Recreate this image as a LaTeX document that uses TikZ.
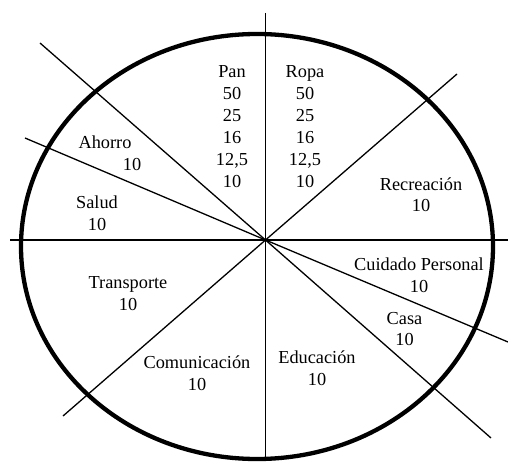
\documentclass[tikz,border=0pt]{standalone}
\usepackage{fontspec}
\setmainfont{Liberation Serif}
\begin{document}
\begin{tikzpicture}[x=1pt,y=-1pt,
  lbl/.style={align=center, font=\fontsize{18.3}{21.5}\selectfont, inner sep=0pt},
  ring/.style={line width=4.3pt},
  ray/.style={line width=1.3pt}]
\useasboundingbox (0,0) rectangle (508,462);
\coordinate (O) at (265.5,240);
\coordinate (v1) at (265.5,13);  \coordinate (v2) at (265.5,458);
\coordinate (h1) at (10,240);    \coordinate (h2) at (508,240);
\coordinate (a1) at (40,43);     \coordinate (a2) at (491,438);
\coordinate (b1) at (25,138);    \coordinate (b2) at (508,342);
\coordinate (c1) at (63,416);    \coordinate (c2) at (457,74);
\draw[ray] (v1) -- (O) -- (v2);
\draw[ray] (h1) -- (O) -- (h2);
\draw[ray] (a1) -- (O) -- (a2);
\draw[ray] (b1) -- (O) -- (b2);
\draw[ray] (c1) -- (O) -- (c2);
\draw[ring] (257,246.5) ellipse [x radius=236, y radius=212.5];
\node[lbl, font=\fontsize{18.3}{22}\selectfont] (pan) at (232,127) {Pan\\50\\25\\16\\12,5\\10};
\node[lbl, font=\fontsize{18.3}{22}\selectfont] (ropa) at (305,127) {Ropa\\50\\25\\16\\12,5\\10};
\node[lbl] (recre) at (421,194.5) {Recreación\\10};
\node[lbl] (ahorro) at (105,153) {Ahorro\\\hspace*{54pt}10};
\node[lbl] (salud) at (97,213) {Salud\\10};
\node[lbl] (transp) at (128,293.5) {Transporte\\10};
\node[lbl] (comun) at (197,373) {Comunicación\\10};
\node[lbl] (cuidado) at (419,275) {Cuidado Personal\\10};
\node[lbl] (casa) at (404.5,329) {Casa\\10};
\node[lbl] (educ) at (317,368) {Educación\\10};
\end{tikzpicture}
\end{document}
